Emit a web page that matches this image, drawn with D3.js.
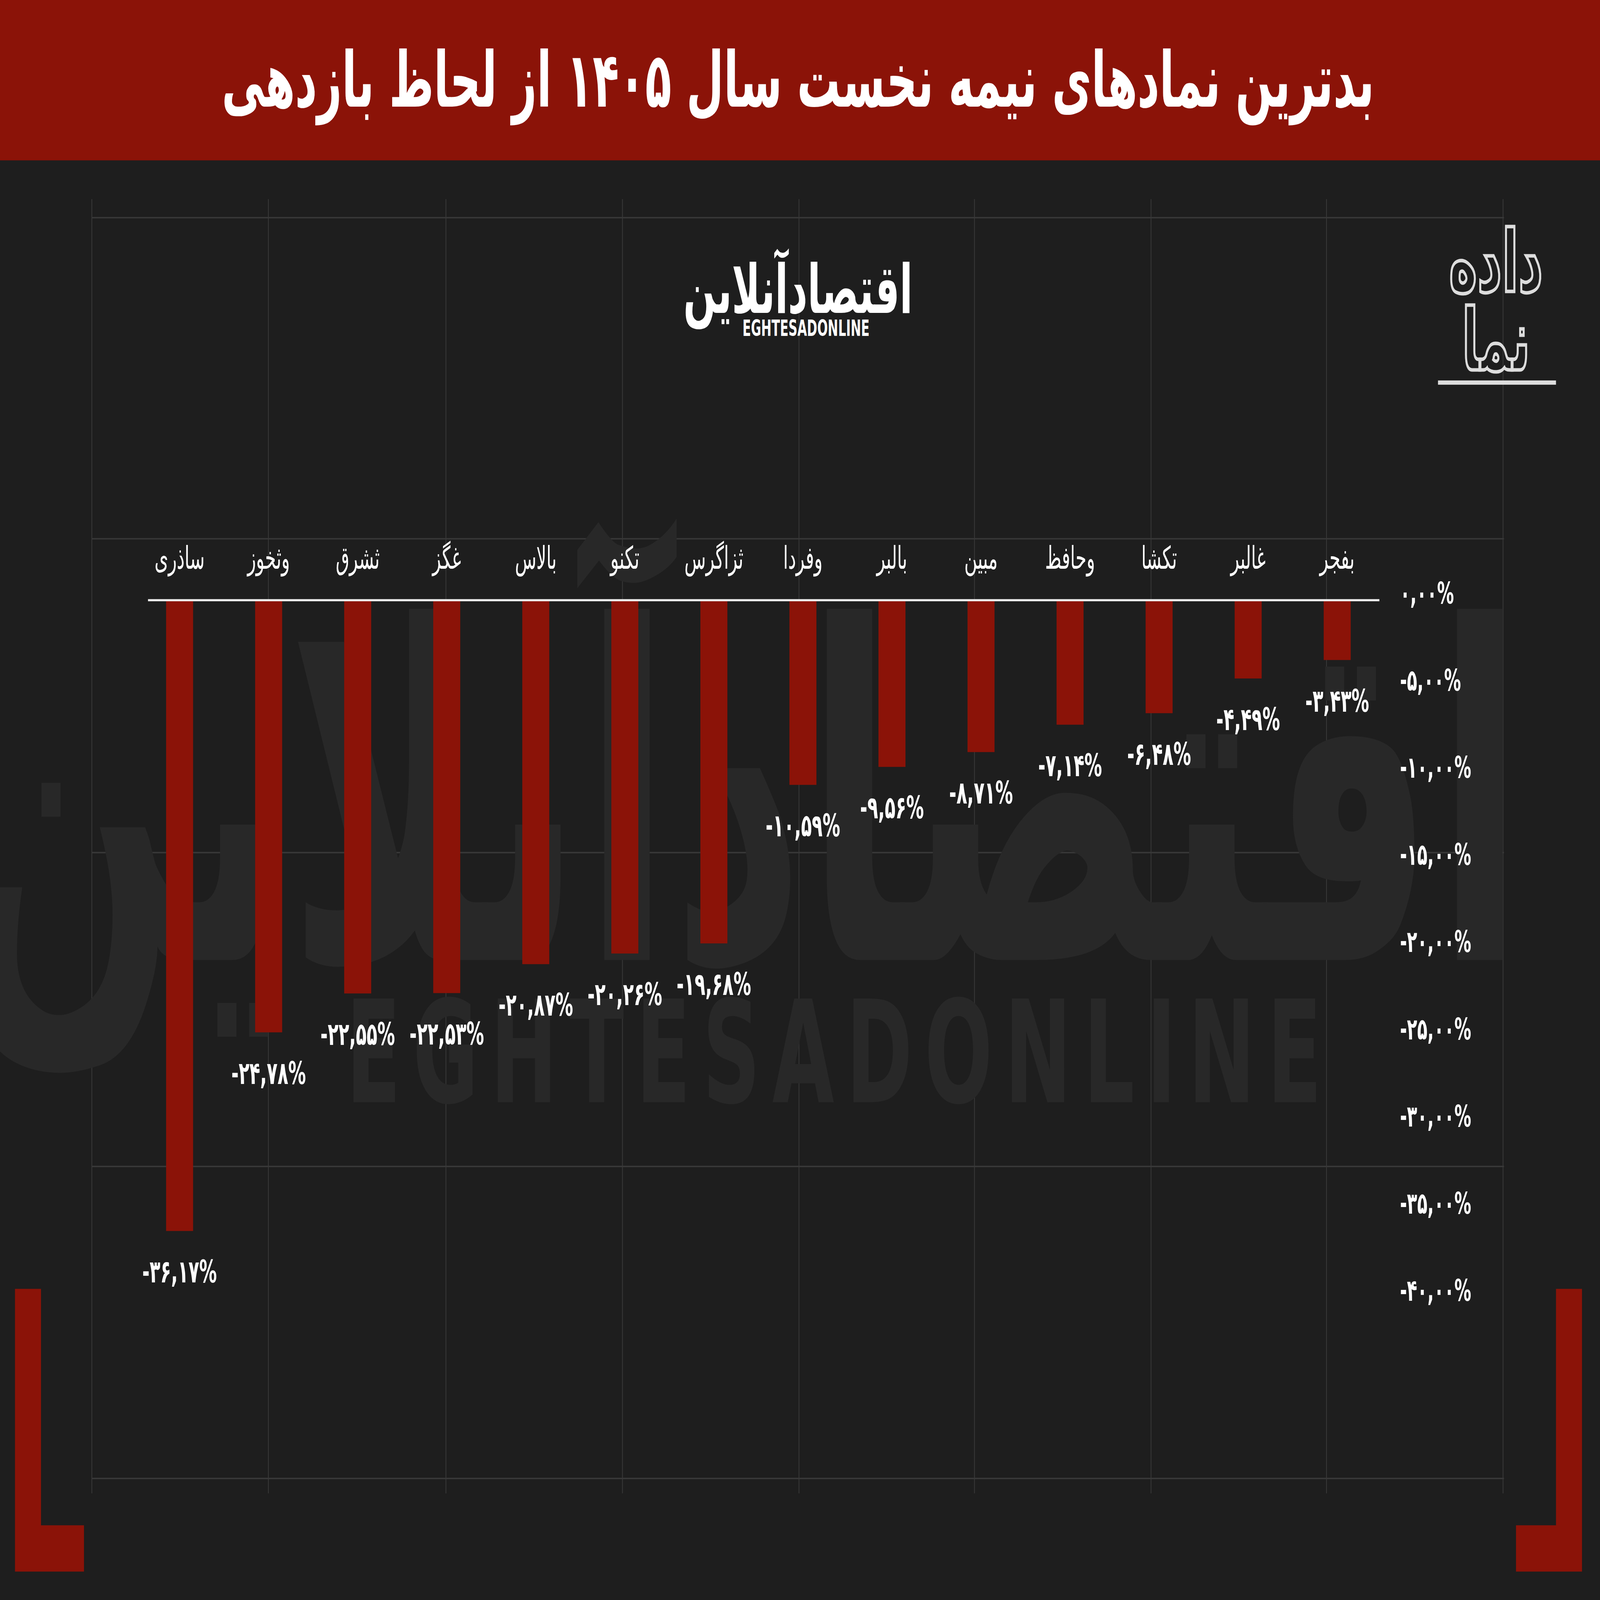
<!DOCTYPE html>
<html><head><meta charset="utf-8">
<script src="https://cdn.jsdelivr.net/npm/d3@7"></script>
<style>html,body{margin:0;padding:0;width:100%;height:100%;overflow:hidden;background:#1e1e1e;}svg{display:block;width:100vw;height:100vh}</style>
</head><body>
<script>
const categories = ["ساذری","وثخوز","ثشرق","غگز","بالاس","تکنو","ثزاگرس","وفردا","بالبر","مبین","وحافظ","تکشا","غالبر","بفجر"];
const values = [-36.17,-24.78,-22.55,-22.53,-20.87,-20.26,-19.68,-10.59,-9.56,-8.71,-7.14,-6.48,-4.49,-3.43];
const tickValues = [0,-5,-10,-15,-20,-25,-30,-35,-40];
const title = "بدترین نمادهای نیمه نخست سال ۱۴۰۵ از لحاظ بازدهی";

const W=8000,H=4500;
const fa = s => s.replace(/\d/g,d=>"۰۱۲۳۴۵۶۷۸۹"[d]);
const fmt = v => (v<0?"-":"")+fa(Math.abs(v).toFixed(2).replace(".",","))+"%";
const font = "'DejaVu Sans', 'Noto Sans', sans-serif";

const svg=d3.select("body").append("svg").attr("viewBox",`0 0 ${W} ${H}`).attr("preserveAspectRatio","none");
svg.append("rect").attr("width",W).attr("height",H).attr("fill","#1e1e1e");

// faint grid
const gx=[90,263,437,610,783,955,1128,1300,1473].map(v=>v*5.102);
const gy=[120,297,470,643,815].map(v=>v*5.102);
gx.forEach(x=>svg.append("line").attr("x1",x).attr("x2",x).attr("y1",560).attr("y2",4200).attr("stroke","#383838").attr("stroke-width",4));
gy.forEach(y=>svg.append("line").attr("x1",460).attr("x2",7520).attr("y1",y).attr("y2",y).attr("stroke","#383838").attr("stroke-width",4));

// watermark
svg.append("text").attr("x",3700).attr("y",2700).attr("text-anchor","middle").attr("font-family",font).attr("font-weight","bold")
 .attr("font-size",1300).attr("fill","#282828").text("اقتصادآنلاین");
svg.append("text").attr("x",4200).attr("y",3100).attr("text-anchor","middle").attr("font-family",font).attr("font-weight","bold")
 .attr("font-size",400).attr("letter-spacing",60).attr("fill","#282828").text("EGHTESADONLINE");

// header
svg.append("rect").attr("width",W).attr("height",451).attr("fill","#8b1308");
svg.append("text").attr("x",3990).attr("y",300).attr("text-anchor","middle").attr("font-family",font).attr("font-weight","bold")
 .attr("font-size",215).attr("fill","#fff").attr("direction","rtl").text(title);

// logo
svg.append("text").attr("x",3990).attr("y",880).attr("text-anchor","middle").attr("font-family",font).attr("font-weight","bold")
 .attr("font-size",190).attr("fill","#fff").text("اقتصادآنلاین");
svg.append("text").attr("x",4030).attr("y",945).attr("text-anchor","middle").attr("font-family",font).attr("font-weight","bold")
 .attr("font-size",62).attr("fill","#fff").text("EGHTESADONLINE");
svg.append("text").attr("x",7480).attr("y",820).attr("text-anchor","middle").attr("font-family",font).attr("font-weight","bold")
 .attr("font-size",240).attr("fill","none").attr("stroke","#ddd").attr("stroke-width",10).text("داده");
svg.append("text").attr("x",7480).attr("y",1040).attr("text-anchor","middle").attr("font-family",font).attr("font-weight","bold")
 .attr("font-size",240).attr("fill","none").attr("stroke","#ddd").attr("stroke-width",10).text("نما");
svg.append("rect").attr("x",7190).attr("y",1070).attr("width",590).attr("height",12).attr("fill","#ddd");

// corner brackets
svg.append("path").attr("fill","#8b1308").attr("d","M75,3625H205V4290H420V4420H75Z");
svg.append("path").attr("fill","#8b1308").attr("d","M7910,3625H7780V4290H7580V4420H7910Z");

// chart
const x=d3.scalePoint().domain(categories).range([898,6686]);
const bw=135;
const y=d3.scaleLinear().domain([0,-40]).range([1688,3650]);

svg.selectAll(".bar").data(values).join("rect")
 .attr("x",(d,i)=>x(categories[i])-bw/2).attr("width",bw)
 .attr("y",y(0)).attr("height",d=>y(d)-y(0)).attr("fill","#8b1308");

svg.append("line").attr("x1",740).attr("x2",6897).attr("y1",y(0)).attr("y2",y(0)).attr("stroke","#eee").attr("stroke-width",6);

svg.selectAll(".cat").data(categories).join("text")
 .attr("x",d=>x(d)).attr("y",1600).attr("text-anchor","middle")
 .attr("font-family",font).attr("font-size",88).attr("fill","#fff").text(d=>d);

svg.selectAll(".val").data(values).join("text")
 .attr("x",(d,i)=>x(categories[i])).attr("y",d=>y(d)+145).attr("text-anchor","middle")
 .attr("direction","ltr").style("unicode-bidi","bidi-override")
 .attr("font-family",font).attr("font-weight","bold").attr("font-size",88).attr("fill","#fff").text(d=>fmt(d));

const axis=d3.axisRight(y).tickValues(tickValues).tickSize(0).tickPadding(0).tickFormat(d=>fmt(d));
const g=svg.append("g").attr("transform","translate(7000,0)").call(axis);
g.select(".domain").remove();
g.selectAll("text").attr("font-family",font).attr("font-weight","bold").attr("font-size",84).attr("fill","#fff")
 .attr("direction","ltr").style("unicode-bidi","bidi-override").attr("dy","0.1em");
</script></body></html>
